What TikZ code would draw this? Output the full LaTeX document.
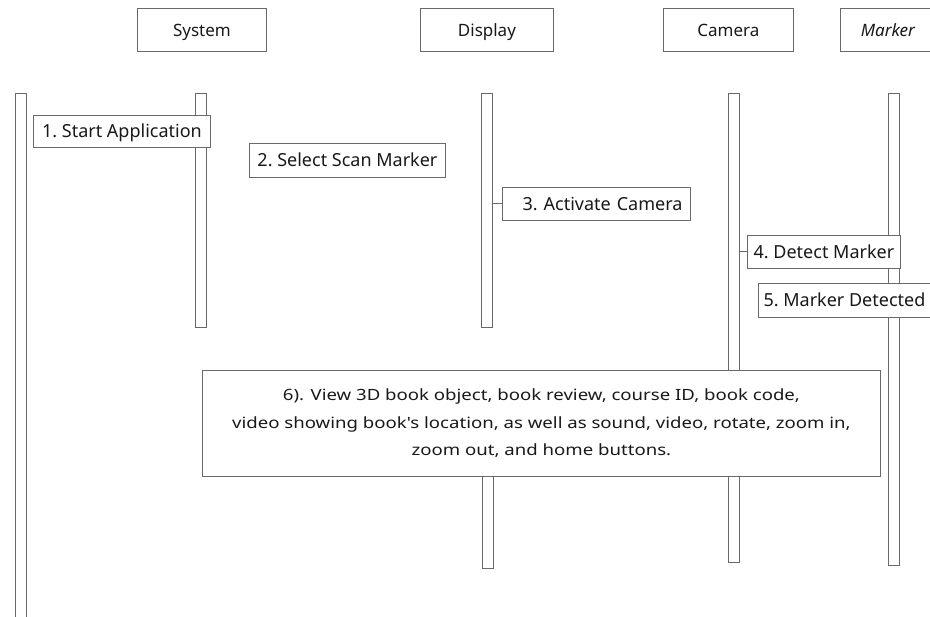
\documentclass[tikz,border=0pt]{standalone}
\usepackage{fontspec}
\setmainfont{Noto Sans}
\newfontfamily\widefont[FakeStretch=1.2]{Noto Sans}
\definecolor{linegray}{RGB}{105,105,105}
\definecolor{txt}{RGB}{25,25,25}
\tikzset{
  head/.style={draw=linegray, line width=0.9pt, fill=white, minimum width=129pt, minimum height=43pt, anchor=north west, inner sep=0pt, text height=14.5pt, text depth=1.5pt, text=txt, font=\fontsize{17}{19}\selectfont},
  life/.style={draw=linegray, line width=0.9pt, fill=white, minimum width=11pt, anchor=north, inner sep=0pt},
  msg/.style={draw=linegray, line width=0.9pt, fill=white, minimum height=32pt, anchor=north west, inner xsep=3pt, inner ysep=0pt, text height=15pt, text depth=2pt, text=txt, font=\frenchspacing\fontsize{18}{20}\selectfont},
  tick/.style={draw=linegray, line width=0.9pt}
}
\begin{document}
\begin{tikzpicture}[x=1pt,y=-1pt]
\useasboundingbox (0,0) rectangle (930,617);
% headers
\node[head] (hsys) at (137,8) {System};
\node[head, minimum width=133pt] (hdis) at (420,8) {Display};
\node[head, minimum width=130pt] (hcam) at (663,8) {Camera};
\node[head, minimum width=95pt] (hmar) at (840,8) {\itshape Marker};
% lifelines
\node[life, minimum height=530pt] (lleft) at (21,93) {};
\node[life, minimum height=234pt] (lsys) at (201,93) {};
\node[life, minimum height=234pt] (ldis) at (487,93) {};
\node[life, minimum height=92pt] (ldisb) at (488,476) {};
\node[life, minimum height=277pt] (lcam) at (734,93) {};
\node[life, minimum height=92pt] (lcamb) at (734,470) {};
\node[life, minimum height=472pt] (lmar) at (894,93) {};
% messages
\node[msg, minimum width=177pt] (m1) at (33,115) {1. Start Application};
\node[msg, minimum width=196pt, minimum height=34pt] (m2) at (249,143) {2. Select Scan Marker};
\node[msg, minimum width=188pt, minimum height=33pt, text width=180pt, align=right, inner xsep=4pt] (m3) at (502,187) {3. Activate Camera\hspace*{4pt}};
\node[msg, minimum width=153pt, minimum height=33pt] (m4) at (747,235) {4. Detect Marker};
\node[msg, minimum width=172pt, minimum height=34pt] (m5) at (758,283) {5. Marker Detected};
\draw[tick] (ldis.east |- m3.west) -- (m3.west);
\draw[tick] (lcam.east |- m4.west) -- (m4.west);
% big box
\node[draw=linegray, line width=0.9pt, fill=white, minimum width=678pt, minimum height=106pt, anchor=north west, inner sep=0pt, text=txt, align=center, font=\widefont\fontsize{15.5}{27.5}\selectfont] (m6) at (202,370)
 {6). View 3D book object, book review, course ID, book code,\\
  video showing book's location, as well as sound, video, rotate, zoom in,\\
  zoom out, and home buttons.};
\end{tikzpicture}
\end{document}
